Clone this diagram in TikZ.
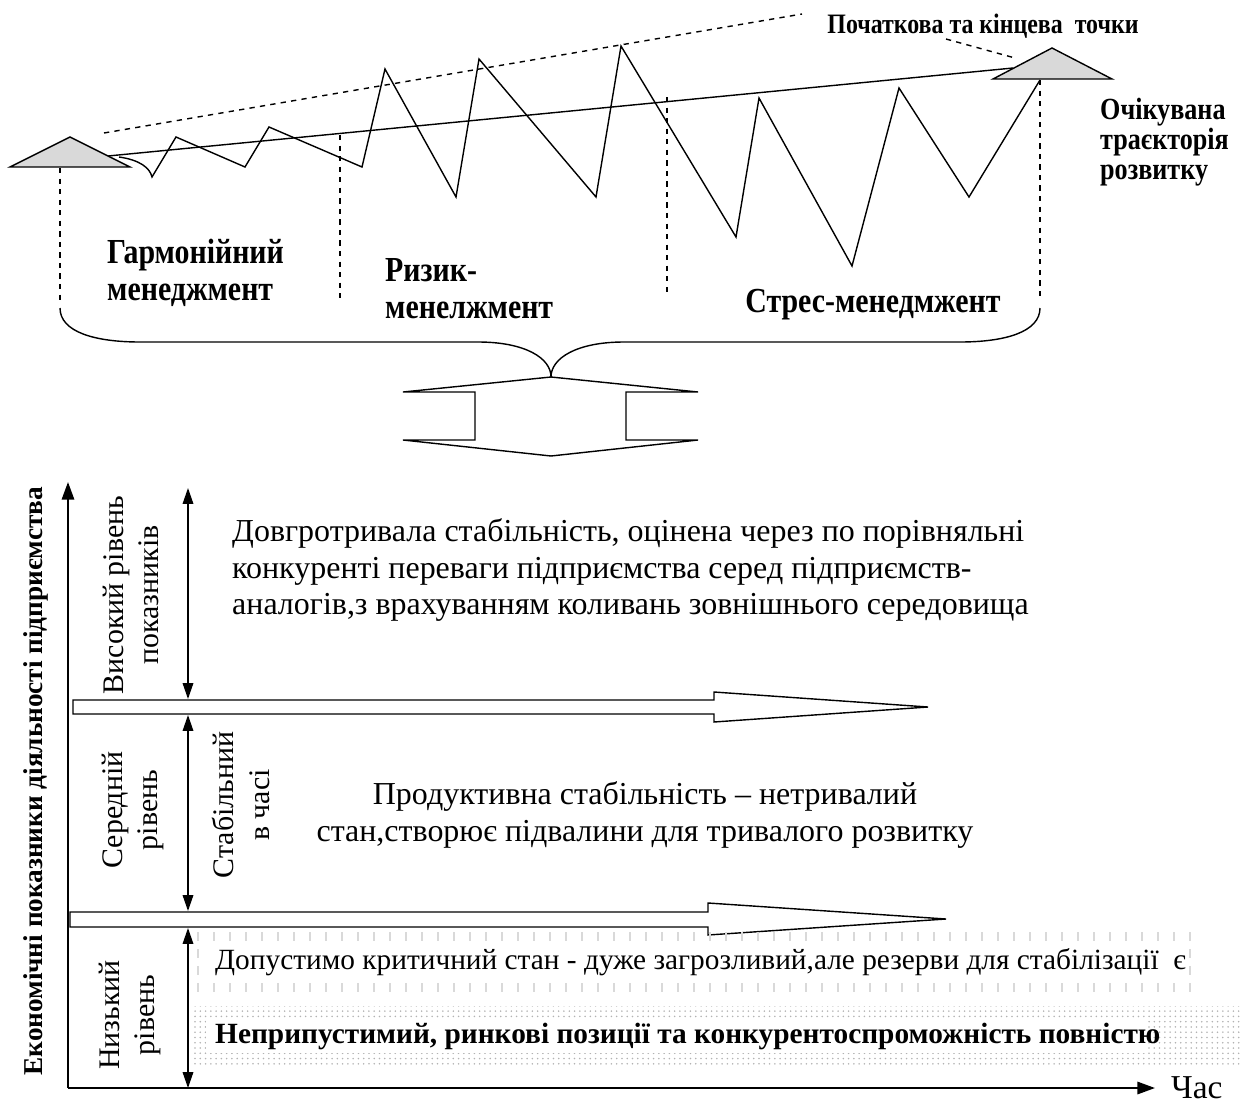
\documentclass[tikz,border=0pt]{standalone}
\usepackage{fontspec}
\setmainfont{Liberation Serif}
\newfontfamily\narrowbf[FakeStretch=0.85]{Liberation Serif Bold}
\usetikzlibrary{arrows.meta, patterns, calc}

\begin{document}
\begin{tikzpicture}[
    x=0.02cm, y=-0.02cm,
    tri/.style={draw, thick, fill=gray!30},
    guide/.style={dashed, thick},
    path/.style={thick, line join=miter},
    dbl/.style={{Triangle[length=9pt,width=6pt]}-{Triangle[length=9pt,width=6pt]}, thick},
    axis/.style={-{Triangle[length=10pt,width=7pt]}, very thick},
    block/.style={draw, thick, fill=white},
    phase/.style={font=\fontsize{20}{21}\selectfont\narrowbf, align=left},
    lvl/.style={rotate=90, align=center, font=\fontsize{17}{20}\selectfont},
    body/.style={font=\fontsize{18.2}{20.5}\selectfont}
]
\useasboundingbox (0,0) rectangle (1241,1106);

% Trajectory
\draw[tri] (10,167) -- (70,137) -- (130,167) -- cycle;
\draw[tri] (993,79) -- (1052,48) -- (1112,79) -- cycle;
\coordinate (start) at (108,156);
\coordinate (finish) at (1013,68);
\draw[thick] (start) -- (finish);
\draw[guide] (104,133) -- (802,14);

\draw[path] (119,157) .. controls (140,160) and (150,168) .. (152,177)
    -- (176,137) -- (245,167) -- (269,127) -- (362,167) -- (385,69)
    -- (456,197) -- (479,59) -- (596,197) -- (621,46) -- (736,237)
    -- (759,98) -- (852,266) -- (899,88) -- (969,197) -- (1040,80);

\node[font=\fontsize{16}{18}\selectfont\narrowbf] (endpts) at (983,26) {Початкова та кінцева\ \ точки};
\draw[guide] (946,39) -- (1015,58);

\node[phase, anchor=west, font=\fontsize{17.5}{17}\selectfont\narrowbf] (traj) at (1094,142) {Очікувана\\траєкторія\\розвитку};

% Phases
\draw[guide] (60,168) -- (60,305);
\draw[guide] (340,135) -- (340,300);
\draw[guide] (667,97) -- (667,295);
\draw[guide] (1040,80) -- (1040,300);

\node[phase, anchor=west] (harm) at (101,273) {Гармонійний\\менеджмент};
\node[phase, anchor=west] (risk) at (379,289) {Ризик-\\менелжмент};
\node[phase] (stress) at (873,305) {Стрес-менедмжент};

\draw[thick] (60,308) .. controls (60,332) and (95,342) .. (140,342) -- (478,342)
    .. controls (525,342) and (551,358) .. (551,377)
    .. controls (551,358) and (577,342) .. (624,342) -- (960,342)
    .. controls (1005,342) and (1040,332) .. (1040,308);

\draw[thick, line join=miter] (403,392) -- (551,377) -- (698,392) -- (626,392) -- (626,440)
    -- (698,440) -- (551,456) -- (403,440) -- (475,440) -- (475,392) -- cycle;

% Levels
\coordinate (origin) at (68,1088);
\coordinate (ytip) at (68,482);
\coordinate (xtip) at (1155,1088);
\draw[axis] (origin) -- (ytip);
\draw[axis] (origin) -- (xtip);
\node[anchor=west, font=\fontsize{19}{21}\selectfont] (time) at (1165,1088) {Час};
\node[rotate=90, font=\fontsize{15.5}{18}\selectfont\bfseries] (ylab) at (36,781) {Економічні показники діяльності підприємства};

\draw[block] (73,700) -- (714,700) -- (714,692) -- (928,707) -- (714,722) -- (714,714) -- (73,714) -- cycle;
\draw[block] (70,912) -- (708,912) -- (708,903) -- (946,919) -- (708,935) -- (708,927) -- (70,927) -- cycle;

\draw[dbl] (188,488) -- (188,699);
\draw[dbl] (188,715) -- (188,911);
\draw[dbl] (188,928) -- (188,1088);

\node[lvl] (high) at (131,595) {Високий рівень\\показників};
\node[lvl] (mid) at (133,810) {Середній\\рівень};
\node[lvl] (stab) at (241,805) {Стабільний\\в часі};
\node[lvl] (low) at (130,1015) {Низький\\рівень};

\node[body, anchor=west, align=left] (longterm) at (226,570) {Довгротривала стабільність, оцінена через по порівняльні\\конкуренті переваги підприємства серед підприємств-\\аналогів,з врахуванням коливань зовнішнього середовища};
\node[body, align=center] (productive) at (645,815) {Продуктивна стабільність – нетривалий\\стан,створює підвалини для тривалого розвитку};

% Lower zones
\foreach \yy in {932,949,966,983}
  \foreach \xx in {198,214,...,1190}
    \draw[gray!30, semithick] (\xx,\yy) -- (\xx,\yy+9);
\fill[white] (208,944) rectangle (1184,981);
\node[anchor=west, font=\fontsize{16.7}{18}\selectfont] (critical) at (209,962) {Допустимо критичний стан - дуже загрозливий,але резерви для стабілізації\ \ є};

\fill[pattern=dots, pattern color=gray!60] (192,1006) rectangle (1241,1067);
\fill[white] (206,1018) rectangle (1147,1053);
\node[anchor=west, font=\fontsize{16.7}{18}\selectfont\bfseries] (inadmissible) at (209,1036) {Неприпустимий, ринкові позиції та конкурентоспроможність повністю};

\end{tikzpicture}
\end{document}
